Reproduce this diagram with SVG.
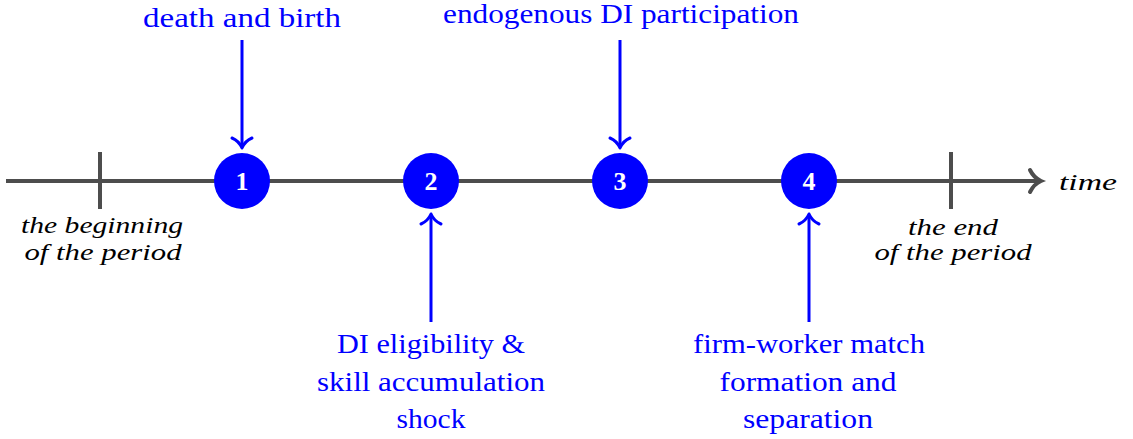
<svg xmlns="http://www.w3.org/2000/svg" width="1133" height="439" viewBox="0 0 1133 439" font-family="Liberation Serif, Times New Roman, DejaVu Serif, serif">
<style>
.axis{stroke:#4d4d4d;stroke-width:4;fill:none}
.conn{stroke:#0000ff;stroke-width:3;fill:none;stroke-linecap:butt}
.head{stroke:#0000ff;stroke-width:3;fill:none;stroke-linecap:round;stroke-linejoin:round}
text{font-family:Liberation Serif, Times New Roman, DejaVu Serif, serif}
.lbl{font-size:27px;fill:#0000ff;text-anchor:middle}
.it{font-style:italic;font-size:24px;fill:#000;text-anchor:middle}
.num{font-weight:bold;font-size:26px;fill:#fff;text-anchor:middle}
.dot{fill:#0000ff}
</style>
<g id="axis">
<line class="axis" x1="6" y1="181" x2="1039" y2="181"/>
<path class="axis" d="M1030,170 Q1034,178 1041,181 Q1034,184 1030,192" stroke-linecap="round"/>
<line class="axis" x1="100" y1="152" x2="100" y2="209"/>
<line class="axis" x1="951" y1="152" x2="951" y2="209"/>
<text class="it" x="1088" y="190" textLength="58" lengthAdjust="spacingAndGlyphs">time</text>
<text class="it" x="102" y="233" textLength="162" lengthAdjust="spacingAndGlyphs">the beginning</text>
<text class="it" x="103" y="260" textLength="157" lengthAdjust="spacingAndGlyphs">of the period</text>
<text class="it" x="953" y="235" textLength="90" lengthAdjust="spacingAndGlyphs">the end</text>
<text class="it" x="953" y="260" textLength="157" lengthAdjust="spacingAndGlyphs">of the period</text>
</g>
<g id="connectors">
<line class="conn" x1="242" y1="40" x2="242" y2="146"/>
<path class="head" d="M232,138 Q239,141 242,148 Q245,141 252,138"/>
<line class="conn" x1="620" y1="40" x2="620" y2="146"/>
<path class="head" d="M610,138 Q617,141 620,148 Q623,141 630,138"/>
<line class="conn" x1="431" y1="322" x2="431" y2="216"/>
<path class="head" d="M421,224 Q428,221 431,214 Q434,221 441,224"/>
<line class="conn" x1="809" y1="322" x2="809" y2="216"/>
<path class="head" d="M799,224 Q806,221 809,214 Q812,221 819,224"/>
</g>
<g id="node1"><circle class="dot" cx="242" cy="181" r="28"/><text class="num" x="242" y="190">1</text></g>
<g id="node2"><circle class="dot" cx="431" cy="181" r="28"/><text class="num" x="431" y="190">2</text></g>
<g id="node3"><circle class="dot" cx="620" cy="181" r="28"/><text class="num" x="620" y="190">3</text></g>
<g id="node4"><circle class="dot" cx="809" cy="181" r="28"/><text class="num" x="809" y="190">4</text></g>
<g id="label1"><text class="lbl" x="242" y="27" textLength="198" lengthAdjust="spacingAndGlyphs">death and birth</text></g>
<g id="label3"><text class="lbl" x="621" y="23" textLength="356" lengthAdjust="spacingAndGlyphs">endogenous DI participation</text></g>
<g id="label2"><text class="lbl" x="431" y="353" textLength="188" lengthAdjust="spacingAndGlyphs">DI eligibility &amp;</text><text class="lbl" x="431" y="391" textLength="228" lengthAdjust="spacingAndGlyphs">skill accumulation</text><text class="lbl" x="431" y="428" textLength="69" lengthAdjust="spacingAndGlyphs">shock</text></g>
<g id="label4"><text class="lbl" x="809" y="353" textLength="232" lengthAdjust="spacingAndGlyphs">firm-worker match</text><text class="lbl" x="808" y="391" textLength="177" lengthAdjust="spacingAndGlyphs">formation and</text><text class="lbl" x="808" y="428" textLength="130" lengthAdjust="spacingAndGlyphs">separation</text></g>
</svg>
